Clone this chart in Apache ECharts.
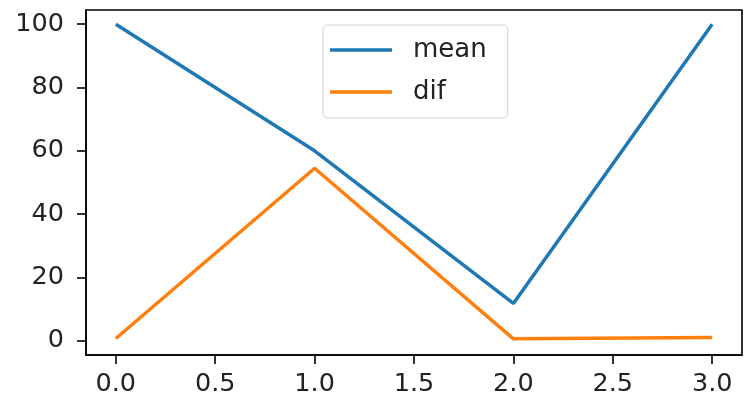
<!DOCTYPE html>
<html>
<head>
<meta charset="utf-8">
<script src="https://cdn.jsdelivr.net/npm/echarts@6/dist/echarts.min.js"></script>
<style>html,body{margin:0;padding:0;background:#fff;}#chart{width:749px;height:400px;}</style>
</head>
<body>
<div id="chart"></div>
<script>
const xValues = [0, 1, 2, 3];
const meanValues = [100, 60, 11.8, 100];
const difValues = [0.7, 54.5, 0.6, 1.0];
const xTicks = [0, 0.5, 1, 1.5, 2, 2.5, 3];
const yTicks = [0, 20, 40, 60, 80, 100];

const chart = echarts.init(document.getElementById('chart'), null, {renderer: 'canvas'});
const font = 'DejaVu Sans';
chart.setOption({
  animation: false,
  backgroundColor: '#fff',
  grid: {left: 86, right: 7, top: 10, bottom: 45, show: true, borderColor: '#000', borderWidth: 1.6, backgroundColor: 'transparent'},
  xAxis: {
    type: 'value', min: -0.15, max: 3.15,
    splitLine: {show: false},
    axisLine: {show: true, onZero: false, lineStyle: {color: '#000', width: 1.6}},
    axisTick: {show: true, length: 9, customValues: xTicks, lineStyle: {color: '#000', width: 1.6}},
    axisLabel: {customValues: xTicks, formatter: v => v.toFixed(1), color: '#222', fontFamily: font, fontSize: 25.5, margin: 16}
  },
  yAxis: {
    type: 'value', min: -4.5, max: 104.5,
    splitLine: {show: false},
    axisLine: {show: true, onZero: false, lineStyle: {color: '#000', width: 1.6}},
    axisTick: {show: true, length: 9, customValues: yTicks, lineStyle: {color: '#000', width: 1.6}},
    axisLabel: {customValues: yTicks, color: '#222', fontFamily: font, fontSize: 25.5, margin: 22}
  },
  legend: {
    orient: 'vertical', left: 323, top: 25,
    data: ['mean', 'dif'],
    icon: 'rect', itemWidth: 62, itemHeight: 3.5, itemGap: 14,
    padding: [11, 21, 12, 7],
    borderColor: '#d0d0d0', borderWidth: 1, borderRadius: 5,
    backgroundColor: 'rgba(255,255,255,0.8)',
    textStyle: {fontFamily: font, fontSize: 26, color: '#222', lineHeight: 28, padding: [0, 0, 0, 16]}
  },
  series: [
    {name: 'mean', type: 'line', data: xValues.map((x, i) => [x, meanValues[i]]), showSymbol: false, symbol: 'none', lineStyle: {color: '#1f77b4', width: 3.5}, itemStyle: {color: '#1f77b4'}},
    {name: 'dif', type: 'line', data: xValues.map((x, i) => [x, difValues[i]]), showSymbol: false, symbol: 'none', lineStyle: {color: '#ff7f0e', width: 3.5}, itemStyle: {color: '#ff7f0e'}}
  ]
});
</script>
</body>
</html>
